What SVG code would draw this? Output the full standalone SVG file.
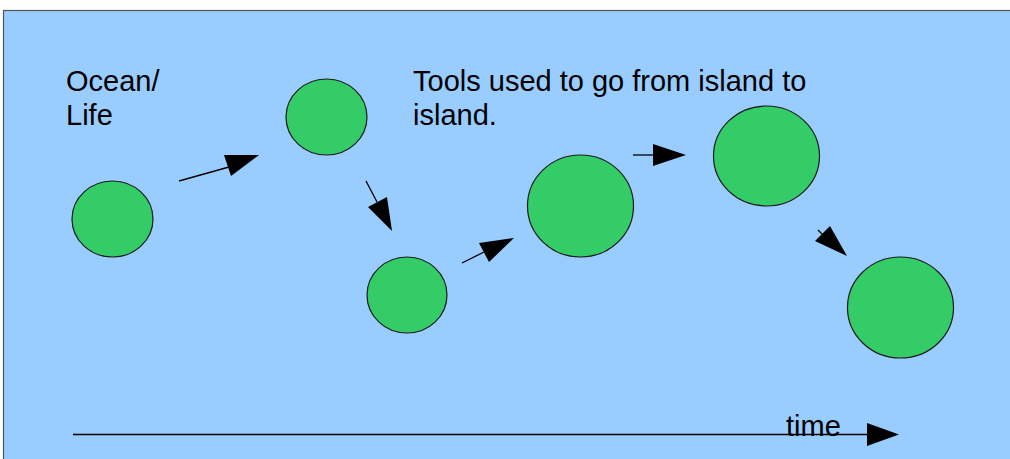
<svg xmlns="http://www.w3.org/2000/svg" width="1010" height="459" viewBox="0 0 1010 459">
<style>
.island{fill:#33cc66;stroke:#1a1a1a;stroke-width:1.2}
.conn{stroke:#000;stroke-width:1.3;fill:none}
.head{fill:#000;stroke:none}
text{font-family:"Liberation Sans",Arial,sans-serif;font-size:29px;fill:#000}
</style>
<rect x="0" y="0" width="1010" height="459" fill="#ffffff"/>
<rect x="3.5" y="10.5" width="1020" height="460" fill="#99ccff" stroke="#555" stroke-width="1.2"/>
<g id="label-ocean"><text x="66" y="91">Ocean/</text><text x="66" y="125">Life</text></g>
<g id="label-tools"><text x="413" y="91">Tools used to go from island to</text><text x="413" y="125">island.</text></g>
<g id="island1"><ellipse class="island" cx="112.5" cy="219" rx="40.5" ry="38"/></g>
<g id="island2"><ellipse class="island" cx="326.5" cy="117" rx="40.5" ry="38"/></g>
<g id="island3"><ellipse class="island" cx="407" cy="295" rx="40" ry="38"/></g>
<g id="island4"><ellipse class="island" cx="580.5" cy="206" rx="53" ry="51"/></g>
<g id="island5"><ellipse class="island" cx="766.5" cy="156" rx="53" ry="50"/></g>
<g id="island6"><ellipse class="island" cx="900.5" cy="307.5" rx="53" ry="50.5"/></g>
<g id="connectors">
<line class="conn" x1="179" y1="181" x2="229" y2="167"/>
<polygon class="head" points="224,155 231,176 259,155"/>
<line class="conn" x1="366" y1="181" x2="377" y2="202"/>
<polygon class="head" points="368,207 387,197 392,231"/>
<line class="conn" x1="462" y1="263" x2="484" y2="252"/>
<polygon class="head" points="479,243 489,262 514,238"/>
<line class="conn" x1="633" y1="155" x2="653" y2="155"/>
<polygon class="head" points="653,144 653,166 686,155"/>
<line class="conn" x1="818" y1="230" x2="822" y2="234"/>
<polygon class="head" points="830,226 815,241 847,256"/>
<line class="conn" x1="73" y1="434.5" x2="868" y2="434.5"/>
<polygon class="head" points="867,423 867,446 899,434.5"/>
</g>
<g id="label-time"><text x="786" y="436">time</text></g>
</svg>
